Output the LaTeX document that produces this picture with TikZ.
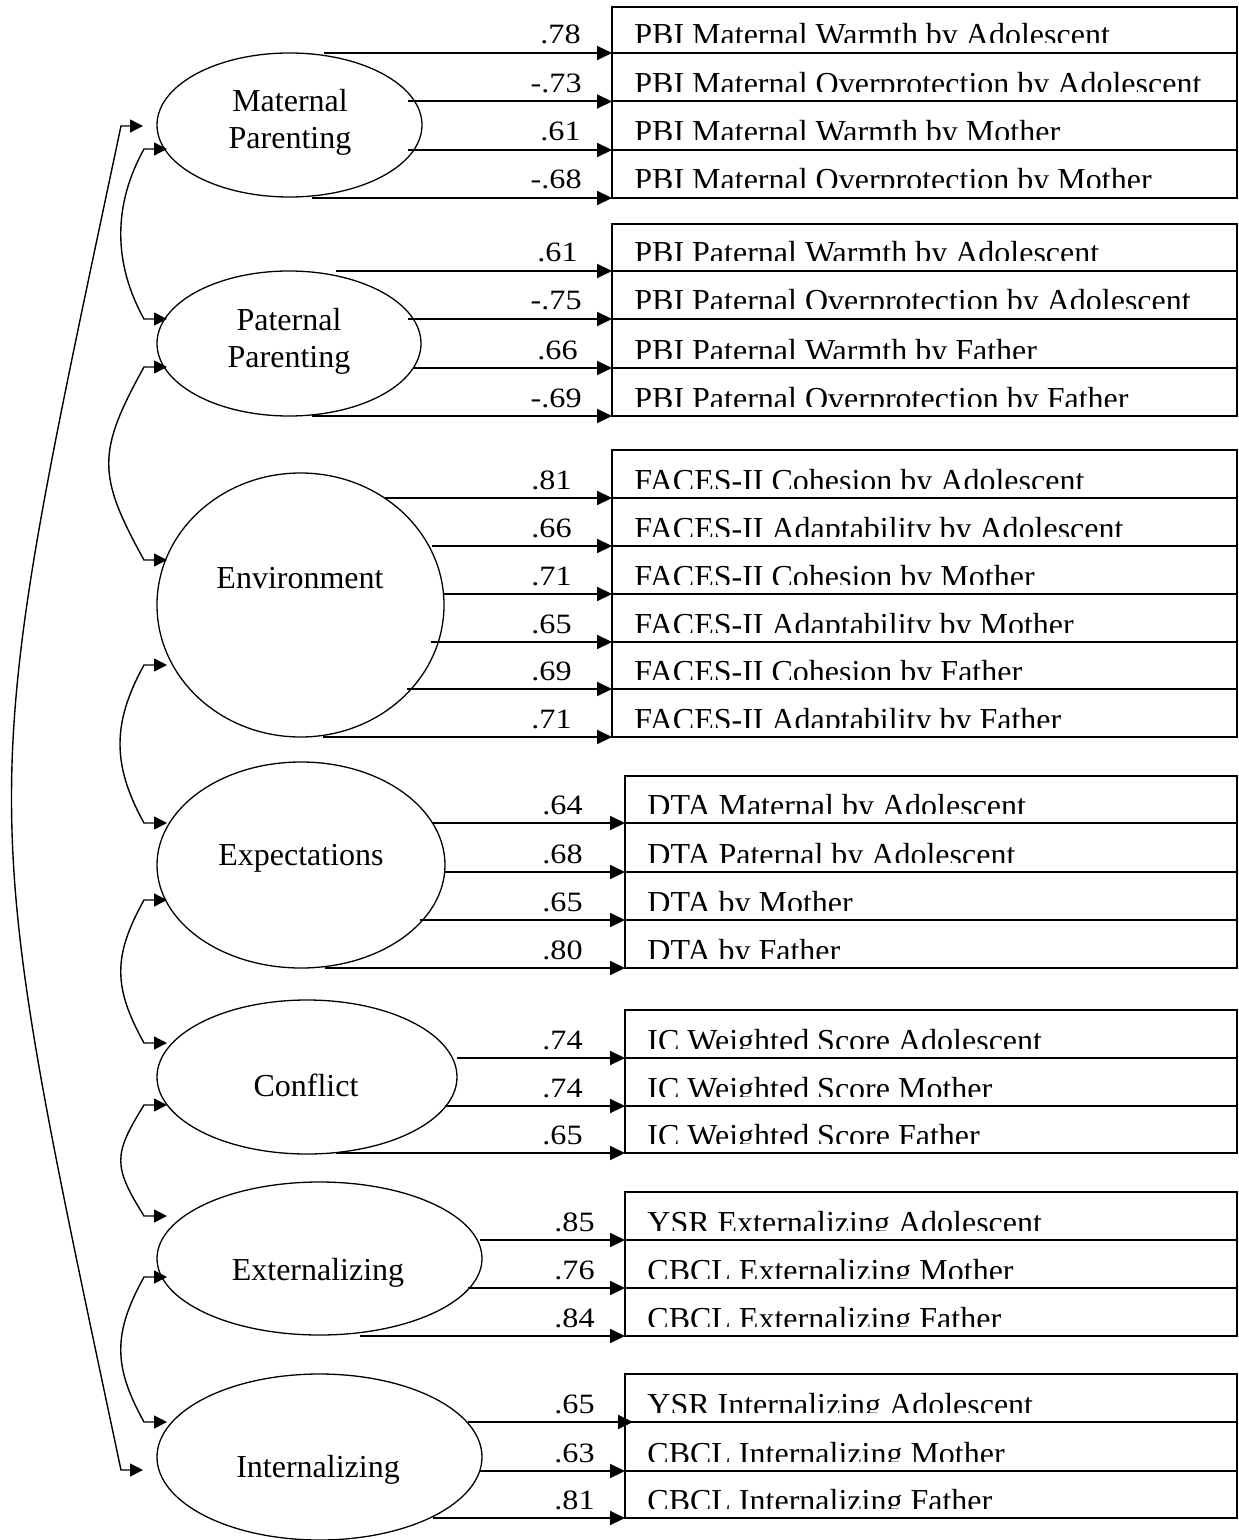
\documentclass[tikz,border=0pt]{standalone}
\usepackage{fontspec}
\usepackage{graphicx}
\setmainfont{Liberation Serif}
\usetikzlibrary{arrows.meta,shapes.geometric}
\tikzset{
  lat/.style={draw, ellipse, line width=0.65pt, inner sep=0pt, outer sep=0pt},
  lattxt/.style={font=\fontsize{16}{19}\selectfont, inner sep=0pt, anchor=base},
  cellbox/.style={draw, rectangle, line width=1pt, inner sep=0pt, outer sep=0pt},
  celltxt/.style={font=\fontsize{16}{19}\selectfont, inner sep=0pt, anchor=base west},
  lab/.style={font=\fontsize{14}{16}\selectfont, inner sep=0pt, anchor=base east},
  load/.style={line width=1pt, -{Triangle[length=7.5pt,width=7pt]}},
  cov/.style={line width=0.7pt, {Triangle[length=6.5pt,width=6.5pt]}-{Triangle[length=6.5pt,width=6.5pt]}},
}
% #1 name, #2 start x, #3 line y, #4 cell left x, #5 cell top y, #6 label, #7 label right x, #8 text, #9 extra arrow style
\newcommand\loadrow[9]{%
  \node[cellbox, minimum width={(1237-#4)*0.5pt}, minimum height={(#3-#5)*0.5pt}, anchor=south west] (#1) at (#4,#3) {};
  \coordinate (#1s) at (#2,#3);
  \draw[load,#9] (#1s) -- (#1.south west);
  \node[lab] (#1l) at (#7,#3-9) {\scalebox{1.15}[1]{#6}};
  \begin{scope}
    \clip (#4,#5) rectangle (1237,#3-10);
    \node[celltxt] (#1t) at (#4+22,#3-7) {#8};
  \end{scope}
}
% #1 name, #2 y1, #3 y2, #4 bulge, #5 control offset
\newcommand\covcurve[5]{%
  \coordinate (#1a) at (167,#2);
  \coordinate (#1b) at (167,#3);
  \draw[cov] (#1a) -- (144,#2) .. controls (144-#4,#2+#5) and (144-#4,#3-#5) .. (144,#3) -- (#1b);
}
\begin{document}
\begin{tikzpicture}[x=0.5pt,y=-0.5pt]
\fill[white] (0,0) rectangle (1238,1540);
\useasboundingbox (0,0) rectangle (1238,1540);

% latent variables
\node[lat, minimum width=132.5pt, minimum height=72pt] (mat) at (289.5,125) {};
\node[lat, minimum width=132pt, minimum height=72.5pt] (pat) at (289,343.5) {};
\node[lat, minimum width=143.5pt, minimum height=132pt] (env) at (300.5,605) {};
\node[lat, minimum width=144pt, minimum height=103pt] (exp) at (301,865) {};
\node[lat, minimum width=150pt, minimum height=77pt] (con) at (307,1077) {};
\node[lat, minimum width=162.5pt, minimum height=76.5pt] (ext) at (319.5,1258.5) {};
\node[lat, minimum width=162.5pt, minimum height=83pt] (int) at (319.5,1457) {};

\node[lattxt] (matT1) at (290,112) {Maternal};
\node[lattxt] (matT2) at (290,149) {Parenting};
\node[lattxt] (patT1) at (289,330.5) {Paternal};
\node[lattxt] (patT2) at (289,367.5) {Parenting};
\node[lattxt] (envT) at (300,588) {Environment};
\node[lattxt] (expT) at (301,865) {Expectations};
\node[lattxt] (conT) at (306,1096) {Conflict};
\node[lattxt] (extT) at (318,1280) {Externalizing};
\node[lattxt] (intT) at (318,1477) {Internalizing};

% Maternal
\loadrow{m1}{324}{53}{612}{7}{.78}{581}{PBI Maternal Warmth by Adolescent}{}
\loadrow{m2}{408}{101.5}{612}{53}{-.73}{582}{PBI Maternal Overprotection by Adolescent}{}
\loadrow{m3}{408}{150}{612}{101.5}{.61}{581}{PBI Maternal Warmth by Mother}{}
\loadrow{m4}{312}{198}{612}{150}{-.68}{582}{PBI Maternal Overprotection by Mother}{}
% Paternal
\loadrow{p1}{336}{271}{612}{224}{.61}{578}{PBI Paternal Warmth by Adolescent}{}
\loadrow{p2}{408}{319}{612}{271}{-.75}{582}{PBI Paternal Overprotection by Adolescent}{}
\loadrow{p3}{413}{368}{612}{319}{.66}{578}{PBI Paternal Warmth by Father}{}
\loadrow{p4}{312}{416}{612}{368}{-.69}{582}{PBI Paternal Overprotection by Father}{}
% Environment
\loadrow{e1}{385}{498}{612}{450}{.81}{572}{FACES-II Cohesion by Adolescent}{}
\loadrow{e2}{432}{546}{612}{498}{.66}{572}{FACES-II Adaptability by Adolescent}{}
\loadrow{e3}{444}{594}{612}{546}{.71}{572}{FACES-II Cohesion by Mother}{}
\loadrow{e4}{431}{642}{612}{594}{.65}{572}{FACES-II Adaptability by Mother}{}
\loadrow{e5}{407}{689}{612}{642}{.69}{572}{FACES-II Cohesion by Father}{}
\loadrow{e6}{323}{737}{612}{689}{.71}{572}{FACES-II Adaptability by Father}{}
% Expectations
\loadrow{x1}{433}{823}{625}{776}{.64}{583}{DTA Maternal by Adolescent}{}
\loadrow{x2}{445}{872}{625}{823}{.68}{583}{DTA Paternal by Adolescent}{}
\loadrow{x3}{420}{920}{625}{872}{.65}{583}{DTA by Mother}{}
\loadrow{x4}{325}{968}{625}{920}{.80}{583}{DTA by Father}{}
% Conflict
\loadrow{c1}{457}{1058}{625}{1010}{.74}{583}{IC Weighted Score Adolescent}{}
\loadrow{c2}{445}{1106}{625}{1058}{.74}{583}{IC Weighted Score Mother}{}
\loadrow{c3}{336}{1153}{625}{1106}{.65}{583}{IC Weighted Score Father}{}
% Externalizing
\loadrow{t1}{480}{1240}{625}{1192}{.85}{595}{YSR Externalizing Adolescent}{}
\loadrow{t2}{468}{1288}{625}{1240}{.76}{595}{CBCL Externalizing Mother}{}
\loadrow{t3}{360}{1336}{625}{1288}{.84}{595}{CBCL Externalizing Father}{}
% Internalizing
\loadrow{i1}{468}{1422}{625}{1374}{.65}{595}{YSR Internalizing Adolescent}{shorten >=-4pt}
\loadrow{i2}{480}{1471}{625}{1422}{.63}{595}{CBCL Internalizing Mother}{}
\loadrow{i3}{433}{1518}{625}{1471}{.81}{595}{CBCL Internalizing Father}{}

% covariances between adjacent factors
\covcurve{k1}{149}{319}{31}{56}
\covcurve{k2}{367}{560}{47}{85}
\covcurve{k3}{665}{823}{32}{58}
\covcurve{k4}{900}{1043}{31}{56}
\covcurve{k5}{1105}{1216}{31}{50}
\covcurve{k6}{1277}{1422}{31}{56}

% long covariance Maternal Parenting <-> Internalizing
\coordinate (bigA) at (143,126);
\coordinate (bigB) at (143,1470);
\draw[cov] (bigA) -- (121,126) .. controls (-25,816) and (-25,780) .. (121,1470) -- (bigB);
\end{tikzpicture}
\end{document}
